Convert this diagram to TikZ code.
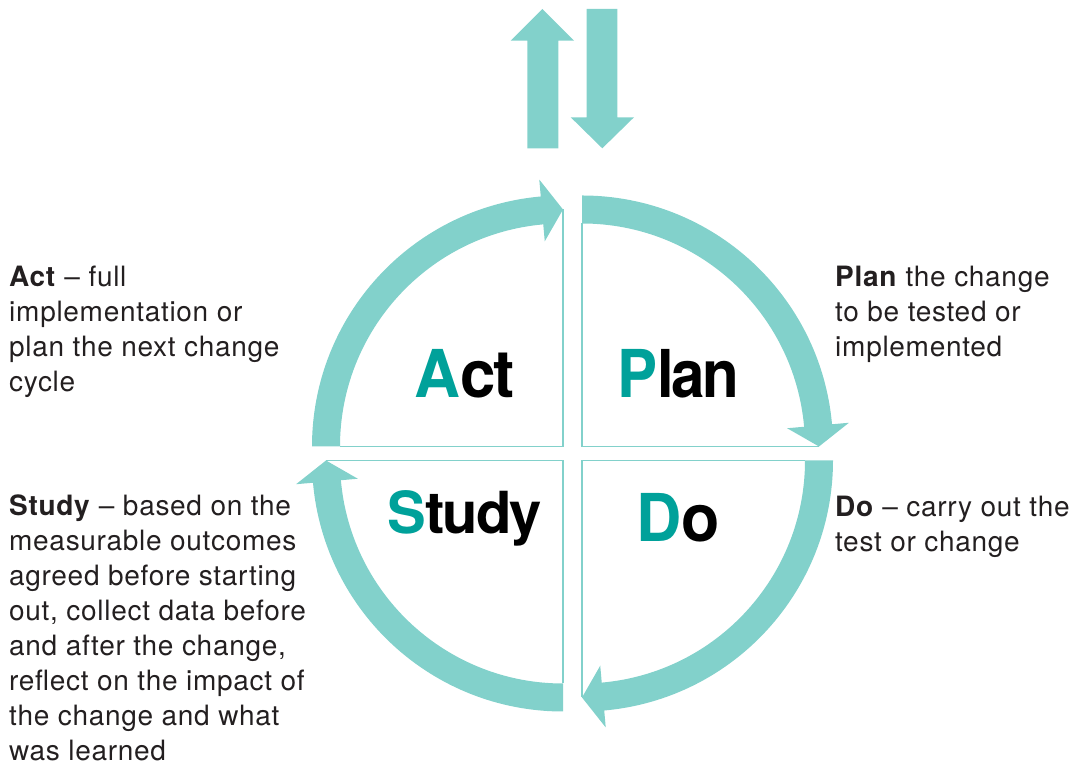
\documentclass[tikz,border=0pt]{standalone}
\usepackage{fontspec}
\usepackage{xcolor}
\usepackage{graphicx}
\setmainfont{TeX Gyre Heros}
\newfontfamily\bodyfont{TeX Gyre Heros}[LetterSpace=2.5]
\newfontfamily\bigfont{TeX Gyre Heros}[LetterSpace=-4]
\definecolor{bandteal}{HTML}{82D1CB}
\definecolor{letterteal}{HTML}{00A19A}
\definecolor{inkgrey}{HTML}{231F20}

% one quarter of the cycle: #1 corner, #2 angle of the arrow tip
\newcommand\pdsaQuarter[2]{%
  \draw[quarterline, shift={(#1)}] ({#2}:237) -- (0,0) -- ({#2+90}:223);
  \fill[bandteal, shift={(#1)}]
    ({#2+90}:251) arc[start angle={#2+90}, end angle={#2+5.08}, radius=251]
    -- ({#2+5.08}:268) -- ({#2}:237) -- ({#2+5.08}:206)
    -- ({#2+5.08}:223) arc[start angle={#2+5.08}, end angle={#2+90}, radius=223]
    -- cycle;
}
% a word of the cycle, first letter in teal, squeezed to width factor #1
\newcommand\pdsaWord[3]{\scalebox{#1}[1]{\textcolor{letterteal}{#2}#3}}

\begin{document}
\begin{tikzpicture}[x=1pt, y=1pt,
  quarterline/.style={draw=bandteal, line width=1.6pt},
  bodytext/.style={inner sep=0pt, anchor=north west, align=left, text=inkgrey,
    font=\bodyfont\fontsize{28}{35}\selectfont},
  bigword/.style={inner sep=0pt, anchor=base west, text=black,
    font=\bigfont\bfseries\fontsize{66}{70}\selectfont},
  smallbigword/.style={bigword, font=\bigfont\bfseries\fontsize{58}{62}\selectfont}]
\useasboundingbox (0,0) rectangle (1080,765);

% corners of the four quarters
\coordinate (cAct) at (563,318.5);
\coordinate (cPlan) at (582,318.5);
\coordinate (cDo) at (582,304.5);
\coordinate (cStudy) at (563,304.5);

\pdsaQuarter{cAct}{90}
\pdsaQuarter{cPlan}{0}
\pdsaQuarter{cDo}{-90}
\pdsaQuarter{cStudy}{-180}

% up and down arrows above the cycle
\fill[bandteal] (527.3,616.7) -- (527.3,724.3) -- (510.7,724.3) -- (542.3,756)
  -- (574,724.3) -- (558.3,724.3) -- (558.3,616.7) -- cycle;
\fill[bandteal] (586.7,756) -- (617.3,756) -- (617.3,647.7) -- (634,647.7)
  -- (602.3,616.7) -- (570.7,647.7) -- (586.7,647.7) -- cycle;

% words inside the quarters
\node[bigword] (actword) at (414,367) {\pdsaWord{0.965}{A}{ct}};
\node[bigword] (planword) at (617,367) {\pdsaWord{0.91}{P}{lan}};
\node[bigword] (doword) at (636,223.5) {\pdsaWord{0.95}{D}{o}};
\node[smallbigword] (studyword) at (387,231) {\pdsaWord{1}{S}{tudy}};

% descriptions
\node[bodytext] (acttext) at (9,503)
  {\rule{0pt}{24pt}\textbf{Act} – full\\implementation or\\plan the next change\\cycle};
\node[bodytext] (plantext) at (835,503)
  {\rule{0pt}{24pt}\textbf{Plan} the change\\to be tested or\\implemented};
\node[bodytext] (dotext) at (835,273)
  {\rule{0pt}{24pt}\textbf{Do} – carry out the\\test or change};
\node[bodytext] (studytext) at (9,274)
  {\rule{0pt}{24pt}\textbf{Study} – based on the\\measurable outcomes\\agreed before starting\\out, collect data before\\and after the change,\\reflect on the impact of\\the change and what\\\raisebox{0pt}[\height][0pt]{was learned}};
\end{tikzpicture}
\end{document}
